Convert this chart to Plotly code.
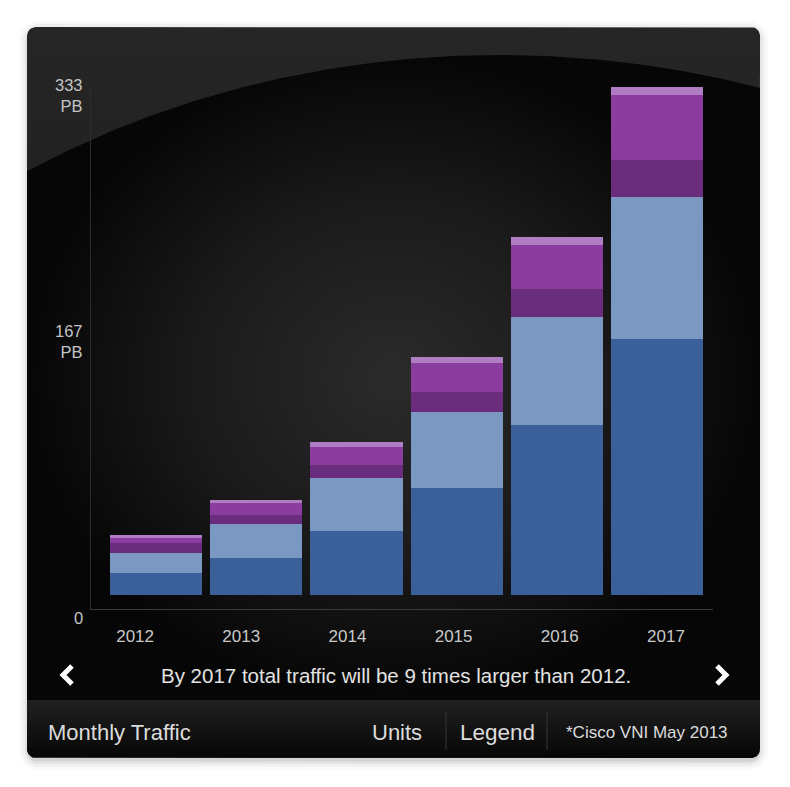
import numpy as np
import plotly.graph_objects as go

# ---------------- data ----------------
years = ["2012", "2013", "2014", "2015", "2016", "2017"]
seg_a = [14.4, 24.3, 42.0, 70.1, 111.4, 167.8]   # dark blue (bottom)
seg_b = [13.1, 22.3, 34.7, 49.8, 70.8, 93.1]     # light blue
seg_c = [6.6, 5.9, 8.5, 13.1, 18.4, 24.3]        # dark purple
seg_d = [3.3, 7.9, 11.8, 19.0, 28.8, 42.6]       # purple
seg_e = [2.0, 2.0, 3.3, 3.9, 5.2, 5.2]           # light violet (top)
seg_colors = ["#3b5f98", "#7b98c2", "#6a2d7e", "#8a3d9f", "#b07cc4"]
y_tick_vals = [0, 167, 333]
y_tick_text = ["0", "167<br>PB", "333<br>PB"]
caption = "By 2017 total traffic will be 9 times larger than 2012."
footer_left = "Monthly Traffic"
footer_items = ["Units", "Legend", "*Cisco VNI May 2013"]

W, H = 790, 787
FONT = "Liberation Sans, Arial, sans-serif"

def px(x):
    return x / W

def py(y):
    return 1 - y / H

def rrect(x0, y0, x1, y1, r, n=10, round_top=True, round_bottom=True):
    xs, ys = [], []
    def arc(cx, cy, a0, a1):
        for t in np.linspace(a0, a1, n):
            xs.append(cx + r * np.cos(t))
            ys.append(cy + r * np.sin(t))
    if round_top:
        arc(x0 + r, y0 + r, np.pi, 1.5 * np.pi)
        arc(x1 - r, y0 + r, 1.5 * np.pi, 2 * np.pi)
    else:
        xs += [x0, x1]; ys += [y0, y0]
    if round_bottom:
        arc(x1 - r, y1 - r, 0, 0.5 * np.pi)
        arc(x0 + r, y1 - r, 0.5 * np.pi, np.pi)
    else:
        xs += [x1, x0]; ys += [y1, y1]
    xs.append(xs[0]); ys.append(ys[0])
    return xs, ys

PX0, PY0, PX1, PY1 = 27, 27, 760, 758

fig = go.Figure()

# ---- soft drop shadow (pixel coordinate subplot x/y) ----
for g, a in [(10, 0.025), (7, 0.035), (4, 0.05), (2, 0.07)]:
    sx, sy = rrect(PX0 - g + 2, PY0 - g + 4, PX1 + g - 2, PY1 + g + 2, 9 + g)
    fig.add_trace(go.Scatter(x=sx, y=sy, mode="lines", fill="toself", line=dict(width=0),
                             fillcolor=f"rgba(0,0,0,{a})", hoverinfo="skip", showlegend=False,
                             xaxis="x", yaxis="y"))

# ---- background panel ----
bx, by = rrect(PX0, PY0, PX1, PY1, 9)
fig.add_trace(go.Scatter(x=bx, y=by, mode="lines", fill="toself", line=dict(width=0),
                         fillgradient=dict(type="vertical", start=PY0, stop=700,
                                           colorscale=[[0, "#262626"], [1, "#121212"]]),
                         hoverinfo="skip", showlegend=False, xaxis="x", yaxis="y"))
# dark elliptical region
cx, cy, ea, eb = 500, 755, 857, 700
ex = np.linspace(PX0, PX1, 120)
ey = cy - eb * np.sqrt(np.clip(1 - ((ex - cx) / ea) ** 2, 0, 1))
ex = list(ex) + [PX1, PX0, PX0]
ey = list(ey) + [700, 700, ey[0]]
fig.add_trace(go.Scatter(x=ex, y=ey, mode="lines", fill="toself", line=dict(width=0),
                         fillgradient=dict(type="radial",
                                           colorscale=[[0, "#2b2b2b"], [0.55, "#1a1a1a"], [1, "#060606"]]),
                         hoverinfo="skip", showlegend=False, xaxis="x", yaxis="y"))
# footer band
fx, fy = rrect(PX0, 700, PX1, PY1, 9, round_top=False)
fig.add_trace(go.Scatter(x=fx, y=fy, mode="lines", fill="toself", line=dict(width=0),
                         fillgradient=dict(type="vertical", start=700, stop=PY1,
                                           colorscale=[[0, "#212121"], [1, "#060606"]]),
                         hoverinfo="skip", showlegend=False, xaxis="x", yaxis="y"))

# ---- bars ----
for vals, col in zip([seg_a, seg_b, seg_c, seg_d, seg_e], seg_colors):
    fig.add_trace(go.Bar(x=years, y=vals, marker=dict(color=col, line=dict(width=0)),
                         xaxis="x2", yaxis="y2", showlegend=False, hoverinfo="skip"))

# invisible trace carrying the year label axis
fig.add_trace(go.Scatter(x=years, y=[0] * len(years), mode="markers",
                         marker=dict(opacity=0), xaxis="x3", yaxis="y2",
                         showlegend=False, hoverinfo="skip"))

K = 333 / 508.0  # value per pixel
BAR_BASE = 595
y_lo = (BAR_BASE - 609) * K
y_hi = (BAR_BASE - 85) * K

shapes = []
# footer separators
for sxp in [446, 547]:
    shapes.append(dict(type="line", xref="paper", yref="paper", x0=px(sxp), x1=px(sxp),
                       y0=py(750), y1=py(712), line=dict(color="#363636", width=1)))
# chevrons
shapes.append(dict(type="path", xref="paper", yref="paper",
                   path=f"M {px(72)},{py(666)} L {px(63)},{py(675)} L {px(72)},{py(684)}",
                   line=dict(color="white", width=5)))
shapes.append(dict(type="path", xref="paper", yref="paper",
                   path=f"M {px(717)},{py(666)} L {px(726)},{py(675)} L {px(717)},{py(684)}",
                   line=dict(color="white", width=5)))

annotations = []
label_px = {0: 618, 167: 341, 333: 95}
for v, t in zip(y_tick_vals, y_tick_text):
    annotations.append(dict(xref="paper", yref="paper", x=px(85), y=py(label_px[v]), text=t,
                            showarrow=False, xanchor="right", yanchor="middle", align="right",
                            font=dict(family=FONT, size=16.5, color="#c4c4c4")))
annotations.append(dict(xref="paper", yref="paper", x=px(396), y=py(675), text=caption,
                        showarrow=False, xanchor="center", yanchor="middle",
                        font=dict(family=FONT, size=20.5, color="#e2e2e2")))
annotations.append(dict(xref="paper", yref="paper", x=px(46), y=py(732), text=footer_left,
                        showarrow=False, xanchor="left", yanchor="middle",
                        font=dict(family=FONT, size=22, color="#dcdcdc")))
for t, cxp, fs in zip(footer_items, [397, 497, 647], [22, 22.5, 17]):
    annotations.append(dict(xref="paper", yref="paper", x=px(cxp), y=py(732), text=t,
                            showarrow=False, xanchor="center", yanchor="middle",
                            font=dict(family=FONT, size=fs, color="#dcdcdc")))

fig.update_layout(
    width=W, height=H, margin=dict(l=0, r=0, t=0, b=0),
    paper_bgcolor="white", plot_bgcolor="rgba(0,0,0,0)",
    barmode="stack", bargap=0.08,
    xaxis=dict(domain=[0, 1], range=[0, W], visible=False, fixedrange=True),
    yaxis=dict(domain=[0, 1], range=[H, 0], visible=False, fixedrange=True),
    xaxis2=dict(domain=[px(91), px(713)], range=[-0.65, 5.56], anchor="y2", type="category",
                showline=True, linecolor="#3a3a3a", linewidth=1, showticklabels=False,
                showgrid=False, zeroline=False, ticks=""),
    xaxis3=dict(domain=[px(82), px(719)], range=[-0.5, 5.5], anchor="y2", type="category",
                showline=False, showgrid=False, zeroline=False, ticks="outside", ticklen=12,
                tickcolor="rgba(0,0,0,0)",
                tickfont=dict(family=FONT, size=17, color="#c8c8c8")),
    yaxis2=dict(domain=[py(609), py(85)], range=[y_lo, y_hi], anchor="x2",
                showline=True, linecolor="#2c2c2c", linewidth=1, showticklabels=False,
                showgrid=False, zeroline=False, ticks=""),
    annotations=annotations, shapes=shapes,
)

fig.write_html("out.html")
